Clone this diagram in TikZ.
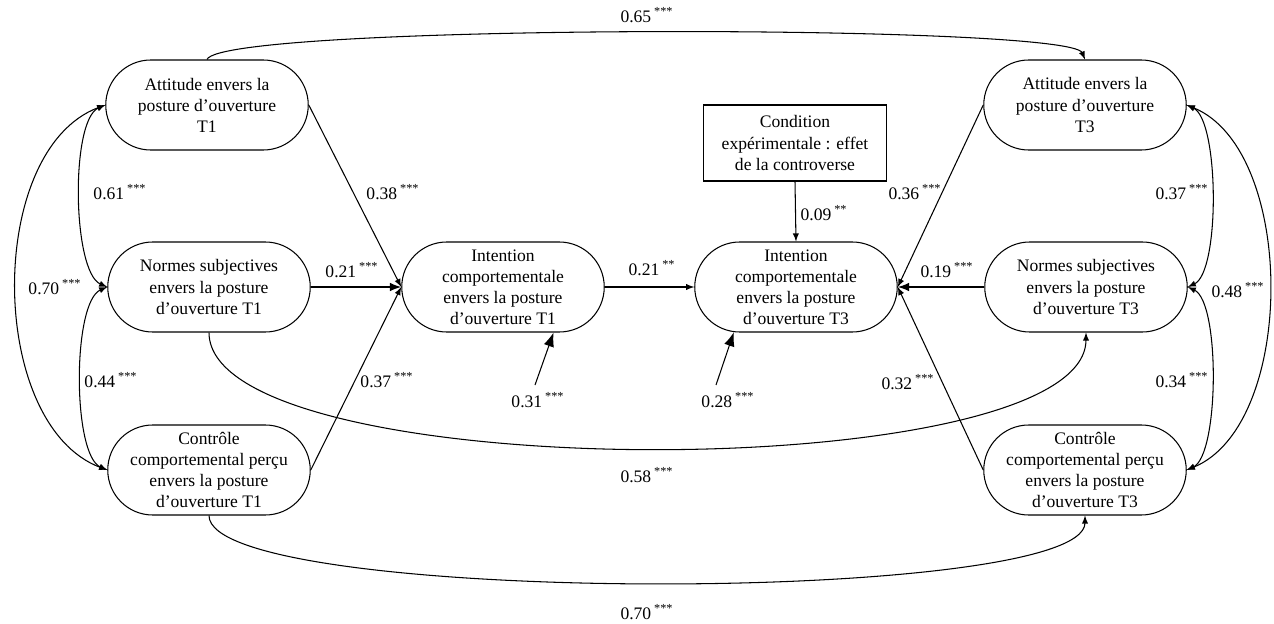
\documentclass[tikz,border=0pt]{standalone}
\usepackage{fontspec}
\setmainfont{Liberation Serif}
\usetikzlibrary{shapes.misc,arrows.meta}
\newcommand{\sig}[1]{\,\textsuperscript{#1}}

\begin{document}
\begin{tikzpicture}[font=\fontsize{10}{12}\selectfont, line width=0.6pt,
		var/.style={shape=rounded rectangle, draw, align=center, minimum width=4.12cm, minimum height=1.8cm, inner sep=1pt},
		exper/.style={shape=rectangle, draw, align=center, minimum width=3.66cm, minimum height=1.52cm, inner sep=1pt},
		coef/.style={inner sep=0pt},
		res/.style={-{Latex[length=8pt,width=6pt]}}]
			\useasboundingbox (0,0) rectangle (25.48,12.46);
			% T1
			\node[var](A1) at (4.14, 10.36){Attitude envers la\\posture d’ouverture\\T1};
			\node[var](N1) at (4.18, 6.72){Normes subjectives\\envers la posture\\d’ouverture T1};
			\node[var](C1) at (4.18, 3.06){Contrôle\\comportemental perçu\\envers la posture\\d’ouverture T1};
			% intentions
			\node[var](I1) at (10.06, 6.72){Intention\\comportementale\\envers la posture\\d’ouverture T1};
			\node[var](I3) at (15.92, 6.72){Intention\\comportementale\\envers la posture\\d’ouverture T3};
			\node[exper](K) at (15.90, 9.60){Condition\\expérimentale : effet\\de la controverse};
			% T3
			\node[var](A3) at (21.70, 10.36){Attitude envers la\\posture d’ouverture\\T3};
			\node[var](N3) at (21.72, 6.72){Normes subjectives\\envers la posture\\d’ouverture T3};
			\node[var](C3) at (21.70, 3.06){Contrôle\\comportemental perçu\\envers la posture\\d’ouverture T3};
			\coordinate (R1) at (10.70, 4.76);
			\coordinate (R3) at (14.32, 4.76);

			% paths
			\draw[-latex] (A1.east) -- (I1.west);
			\draw[-latex, line width=1.2pt] (N1.east) -- (I1.west);
			\draw[-latex] (C1.east) -- (I1.west);
			\draw[-latex] (I1.east) -- (I3.west);
			\draw[-latex] (K.south) -- (I3.north);
			\draw[-latex] (A3.west) -- (I3.east);
			\draw[-latex, line width=1.2pt] (N3.west) -- (I3.east);
			\draw[-latex] (C3.west) -- (I3.east);
			\draw[res] (R1) -- (I1.-42.6);
			\draw[res] (R3) -- (I3.-144.3);

			% stability
			\draw[-latex] (A1.north) .. controls +(0.3,0.72) and +(-0.3,0.72) .. (A3.north);
			\draw[-latex] (N1.south) .. controls +(0,-3.1) and +(0,-3.1) .. (N3.south);
			\draw[-latex] (C1.south) .. controls +(0,-1.8) and +(0,-1.8) .. (C3.south);

			% covariances
			\draw[latex-latex] (A1.west) .. controls +(-0.7,-0.3) and +(-0.7,0.3) .. (N1.west);
			\draw[latex-latex] (N1.west) .. controls +(-0.7,-0.3) and +(-0.7,0.3) .. (C1.west);
			\draw[latex-latex] (A1.west) .. controls +(-2.4,-0.9) and +(-2.4,0.9) .. (C1.west);
			\draw[latex-latex] (A3.east) .. controls +(0.65,-0.3) and +(0.65,0.3) .. (N3.east);
			\draw[latex-latex] (N3.east) .. controls +(0.65,-0.3) and +(0.65,0.3) .. (C3.east);
			\draw[latex-latex] (A3.east) .. controls +(2.2,-0.9) and +(2.2,0.9) .. (C3.east);

			% coefficients
			\node[coef](L1) at (12.94, 12.16){0.65\sig{***}};
			\node[coef](L2) at (2.40, 8.62){0.61\sig{***}};
			\node[coef](L3) at (1.10, 6.72){0.70\sig{***}};
			\node[coef](L4) at (2.22, 4.86){0.44\sig{***}};
			\node[coef](L5) at (7.86, 8.62){0.38\sig{***}};
			\node[coef](L6) at (7.04, 7.06){0.21\sig{***}};
			\node[coef](L7) at (7.74, 4.86){0.37\sig{***}};
			\node[coef](L8) at (13.04, 7.10){0.21\sig{**}};
			\node[coef](L9) at (10.76, 4.46){0.31\sig{***}};
			\node[coef](L10) at (14.56, 4.46){0.28\sig{***}};
			\node[coef](L11) at (16.48, 8.20){0.09\sig{**}};
			\node[coef](L12) at (18.30, 8.62){0.36\sig{***}};
			\node[coef](L13) at (23.64, 8.62){0.37\sig{***}};
			\node[coef](L14) at (18.94, 7.06){0.19\sig{***}};
			\node[coef](L15) at (24.76, 6.66){0.48\sig{***}};
			\node[coef](L16) at (18.16, 4.82){0.32\sig{***}};
			\node[coef](L17) at (23.64, 4.86){0.34\sig{***}};
			\node[coef](L18) at (12.94, 2.96){0.58\sig{***}};
			\node[coef](L19) at (12.94, 0.22){0.70\sig{***}};
		\end{tikzpicture}
\end{document}
